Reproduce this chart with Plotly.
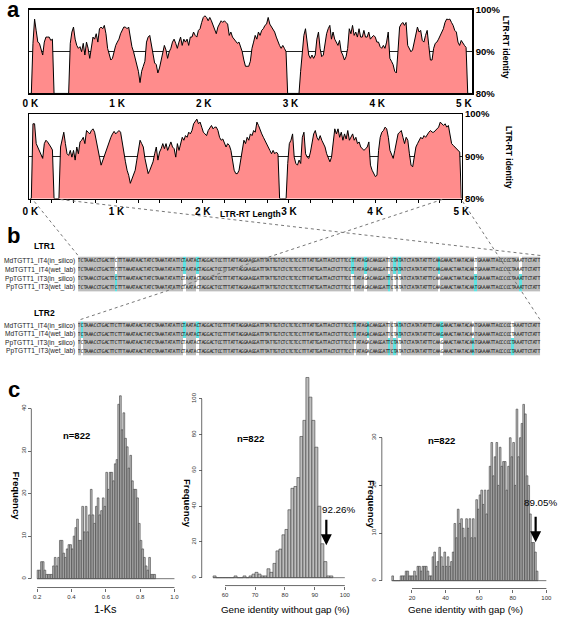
import plotly.graph_objects as go

W, H = 567, 622
FONT = "Liberation Sans, Arial, Helvetica, sans-serif"


def fx(px):
    return px / W


def fy(py):
    return 1 - py / H


# ---------------- data: panel a (LTR-RT identity profiles, %) ----------------
a1_start_kb = -0.0075
a1_step_kb = 0.01871
a1_identity = [
    80, 80, 92, 97.8, 95, 92.3, 92, 90.8, 89.2, 92.3,
    93.5, 93.5, 93.5, 92.7, 93, 80, 80, 80, 80, 80,
    80, 80, 80, 80, 80, 92, 94.7, 95.9, 93, 91.5,
    90.8, 91.2, 90, 92, 89.2, 92.3, 90.8, 88.4, 91.2, 93.5,
    93, 94.3, 92.3, 95.5, 95.9, 95.5, 96.3, 94.3, 90.8, 89.2,
    88, 88.4, 90, 91.5, 92.3, 93, 94.3, 95.1, 95.9, 95.9,
    95.5, 95.9, 93.5, 91.2, 90, 88.4, 86.9, 85.3, 82.6, 85.3,
    86.5, 87.7, 92.3, 93.5, 93.9, 91.5, 89.2, 87.3, 86.9, 84.9,
    86.1, 87.7, 89.6, 91.5, 90.4, 88.4, 90, 90.8, 92.3, 93,
    92, 90.8, 92.3, 93.5, 91.5, 93, 92.3, 93, 91.5, 93.5,
    93.5, 94.7, 93.9, 93.5, 95.1, 95.5, 97, 98.2, 98.6, 98.2,
    97.4, 98.2, 97.4, 96.3, 95.5, 94.3, 95.9, 96.6, 97.4, 97,
    97.4, 97, 96.6, 93.9, 94.7, 93.5, 93, 92.3, 92, 92.3,
    91.2, 90, 88, 86.5, 86.5, 86.5, 87.7, 90.8, 92.3, 93.9,
    93, 94.7, 93.9, 95.1, 95.5, 96.3, 96.6, 98.2, 96.6, 95.9,
    95.5, 94.7, 93.5, 92.3, 91.5, 90.8, 91.5, 90.8, 90, 80,
    80, 80, 80, 80, 80, 80, 80, 85.3, 90, 93.9,
    95.5, 92.3, 89.2, 88.4, 89.2, 88.4, 89.2, 93, 94.7, 90.8,
    88.8, 89.2, 91.5, 94.3, 95.5, 96.3, 93, 94.7, 93, 92.3,
    91.5, 92.7, 90, 89.2, 88, 88.8, 90.8, 95.5, 94.3, 96.3,
    93.9, 94.7, 93.5, 95.5, 93.5, 93.5, 95.1, 93.5, 93.5, 94.7,
    93, 93.5, 93.9, 93.5, 92.3, 92.3, 91.2, 90.8, 91.5, 90.8,
    92.3, 94.7, 88.4, 87.7, 86.9, 85.3, 84.9, 90, 95.9, 96.6,
    97, 96.3, 97, 91.5, 90.8, 90, 90.4, 92.3, 94.7, 95.9,
    94.7, 95.1, 92.7, 92.3, 93.9, 95.1, 91.5, 88, 88, 90.8,
    92, 92.3, 93, 93.9, 94.7, 95.5, 97, 97.8, 97.7, 97.8,
    97, 96.3, 95.1, 94.7, 92.3, 91.5, 92.7, 92, 91.5, 91,
    80, 80, 80,
]

a2_start_kb = -0.0075
a2_step_kb = 0.018825
a2_identity = [
    80, 80, 97.7, 97.7, 93, 92.2, 91.4, 90.6, 89.5, 93,
    93.8, 93.4, 92.6, 92.2, 91.5, 80, 80, 80, 80, 92.2,
    94.1, 95.7, 93, 90.6, 90.2, 91.4, 89.8, 91.4, 89.1, 92.2,
    90.6, 93.4, 93.8, 94.5, 93, 96.1, 95.7, 95.3, 96.1, 96.5,
    95.7, 93.4, 91.4, 89.8, 87.9, 89.1, 89.8, 91, 92.2, 93.8,
    94.5, 95.3, 95.9, 95.3, 95.7, 96.1, 95.7, 93, 91.4, 88.7,
    86.7, 85.5, 83.6, 84.8, 85.9, 86.7, 89.1, 91.4, 93.8, 93,
    92.2, 89.5, 87.5, 85.9, 86.7, 87.9, 88.7, 90.6, 92.2, 89.1,
    91, 91.8, 93, 91.8, 93, 91.4, 92.6, 93.4, 92.2, 91.8,
    89.8, 93, 91.4, 93, 94.5, 93.8, 94.9, 94.5, 95.7, 95.3,
    96.1, 97.7, 98.4, 98.8, 97.7, 98.1, 96.9, 95.7, 95.3, 94.9,
    96.1, 96.9, 97.3, 96.5, 96.9, 96.9, 96.1, 94.5, 93.8, 94.1,
    93, 92.2, 93, 92.6, 91.4, 89.1, 86.7, 85.9, 85.9, 86.7,
    89.1, 91.4, 93.8, 93, 94.5, 93.8, 95.3, 94.9, 96.1, 95.7,
    98.1, 97.3, 96.5, 95.3, 94.5, 93.8, 93, 92.2, 91.4, 90.6,
    91.4, 90.6, 91, 90.5, 80, 80, 80, 80, 80, 88.3,
    93, 93.8, 95.3, 89.8, 88.3, 87.9, 89.1, 88.3, 94.5, 95.7,
    90.6, 89.8, 89.5, 91, 93.8, 95.3, 96.1, 94.5, 93.8, 94.9,
    93.8, 93, 92.2, 90.6, 89.5, 88.7, 89.8, 93, 96.5, 95.3,
    96.5, 94.5, 95.7, 93.8, 95.3, 94.1, 96.1, 93.8, 94.5, 95.3,
    93.8, 94.5, 93, 93.4, 92.2, 91.8, 91.4, 91.8, 92.2, 93.4,
    87.9, 86.7, 85.9, 85.2, 85.5, 91.4, 94.5, 95.7, 96.1, 96.9,
    96.5, 94.5, 91.4, 90.6, 89.5, 91.4, 93.8, 95.3, 95.7, 96.1,
    94.5, 93, 94.5, 93.8, 90.6, 87.9, 87.5, 89.8, 92.2, 93,
    93.8, 94.5, 94.1, 94.9, 94.5, 95.3, 95.7, 96.1, 95.7, 95.7,
    96.1, 96.5, 96.9, 98.1, 97.7, 97.3, 97.7, 96.9, 97.3, 95.3,
    93, 92.6, 92.2, 91.8, 91.4, 91, 80,
]

kb_ticks = [0, 1, 2, 3, 4, 5]
kb_labels = ["0 K", "1 K", "2 K", "3 K", "4 K", "5 K"]
pct_ticks = [80, 90, 100]
pct_labels = ["80%", "90%", "100%"]

# ---------------- data: panel b (LTR alignments) ----------------
seq_names = ["MdTGTT1_IT4(in_silico)", "MdTGTT1_IT4(wet_lab)",
             "PpTGTT1_IT3(in_silico)", "PpTGTT1_IT3(wet_lab)"]
ltr_sequence = ("TCTAAACCTGACTTCTTTAAATAACTATCTAAATATATTCTAATACTAGGACTCCTTTATTAGGAAGGAT"
                "TTATTGTCTCTCTCCTTTATTGATTACTCTTTCCTTATAGACAAGGATTCTATATCTATATATTTCAAGA"
                "AACTAATACAATGAAAATTACCCCCTAAATTCTATT")
# variable columns: column index and the rows highlighted in cyan (other rows differ)
ltr1_var_cols = [14, 40, 45, 104, 109, 118, 120, 122, 137, 151, 168]
ltr1_var_rows = [[2, 3], [0, 1], [0, 1], [0, 1], [0, 1], [2, 3], [0, 1], [0, 1], [0, 1], [2, 3], [2, 3]]
ltr2_var_cols = [1, 40, 45, 105, 110, 118, 120, 122, 138, 150, 165]
ltr2_var_rows = [[0, 1], [0, 1], [0, 1], [0, 1], [0, 1], [2, 3], [2, 3], [0, 1], [0, 1], [2, 3], [2, 3]]

# ---------------- data: panel c (histograms) ----------------
ks_bin_start, ks_bin_width = 0.20, 0.01
ks_counts = [2, 2, 4, 4, 2, 1, 1, 1, 1, 3,
             5, 3, 5, 9, 9, 6, 5, 7, 8, 8,
             7, 10, 12, 14, 9, 9, 17, 11, 17, 11,
             15, 21, 15, 13, 17, 19, 15, 16, 19, 17,
             25, 21, 25, 25, 23, 27, 28, 41, 43, 35,
             39, 33, 31, 26, 29, 23, 21, 21, 19, 13,
             9, 7, 5, 3, 2, 5, 1, 1, 1]
ks_ticks = [0.2, 0.4, 0.6, 0.8, 1.0]
ks_tick_labels = ["0.2", "0.4", "0.6", "0.8", "1.0"]
ks_freq_ticks = [0, 10, 20, 30, 40]

nogap_bin_start, nogap_bin_width = 56, 1
nogap_counts = [1, 0, 0, 0, 0, 0, 0, 1, 0, 0,
                1, 0, 1, 2, 3, 2, 1, 1, 5, 3,
                8, 15, 16, 24, 27, 38, 50, 51, 56, 79,
                88, 112, 101, 88, 73, 40, 19, 9, 1, 1]
nogap_ticks = [60, 70, 80, 90, 100]
nogap_freq_ticks = [0, 20, 40, 60, 80, 100]
nogap_mark = 92.26

withgap_bin_start, withgap_bin_width = 8, 1
withgap_counts = [1, 0, 0, 0, 0, 1, 1, 1, 2, 2, 1, 1, 1, 2, 1, 3, 3, 2, 3, 3, 3, 2, 1, 1,
                  5, 6, 3, 4, 7, 5, 3, 6, 3, 5, 3, 4, 6,
                  12, 9, 15, 12, 13, 11, 9, 13, 11, 13, 9, 13, 9,
                  17, 15, 18, 19, 16, 19, 14, 19,
                  24, 29, 22, 26, 29, 20, 28, 24, 25, 25, 19, 24,
                  30, 26, 29, 20, 36, 26, 30, 33, 37, 35, 22, 20, 14, 8, 8, 6, 2]
withgap_ticks = [20, 40, 60, 80, 100]
withgap_freq_ticks = [0, 10, 20, 30]
withgap_mark = 89.05
n_genes = 822

# ---------------- figure ----------------
fig = go.Figure()
PINK = "#FF8C8C"

a1_pos = [a1_start_kb + i * a1_step_kb for i in range(len(a1_identity))]
a2_pos = [a2_start_kb + i * a2_step_kb for i in range(len(a2_identity))]
fig.add_trace(go.Scatter(x=a1_pos, y=a1_identity, mode="lines", fill="tozeroy",
                         fillcolor=PINK, line=dict(color="black", width=1),
                         xaxis="x", yaxis="y", hoverinfo="skip"))
fig.add_trace(go.Scatter(x=a2_pos, y=a2_identity, mode="lines", fill="tozeroy",
                         fillcolor=PINK, line=dict(color="black", width=1),
                         xaxis="x2", yaxis="y2", hoverinfo="skip"))


def build_z(cols, rows):
    z = [[0] * len(ltr_sequence) for _ in range(4)]
    for c, rs in zip(cols, rows):
        for r in range(4):
            z[r][c] = 1 if r in rs else 2
    return z


seq_text = [list(ltr_sequence) for _ in range(4)]
cscale = [[0, "#BDBDBD"], [0.33, "#BDBDBD"], [0.33, "#5FE3E3"], [0.67, "#5FE3E3"],
          [0.67, "#FFFFFF"], [1, "#FFFFFF"]]
for z, xa, ya in [(build_z(ltr1_var_cols, ltr1_var_rows), "x3", "y3"),
                  (build_z(ltr2_var_cols, ltr2_var_rows), "x4", "y4")]:
    fig.add_trace(go.Heatmap(z=z, text=seq_text, texttemplate="%{text}",
                             textfont=dict(size=5, color="#111111", family="DejaVu Sans Mono"),
                             colorscale=cscale, zmin=0, zmax=2, showscale=False,
                             xaxis=xa, yaxis=ya, hoverinfo="skip"))


def add_hist(start, width, counts, end, xa, ya):
    centers = [start + width * (i + 0.5) for i in range(len(counts))]
    fig.add_trace(go.Scatter(x=[start, end], y=[0, 0], mode="lines",
                             line=dict(color="#555555", width=0.8),
                             xaxis=xa, yaxis=ya, hoverinfo="skip"))
    fig.add_trace(go.Bar(x=centers, y=counts, width=width,
                         marker=dict(color="#BEBEBE", line=dict(color="#3c3c3c", width=0.6)),
                         xaxis=xa, yaxis=ya, hoverinfo="skip"))


add_hist(ks_bin_start, ks_bin_width, ks_counts, ks_ticks[-1], "x5", "y5")
add_hist(nogap_bin_start, nogap_bin_width, nogap_counts, nogap_ticks[-1], "x6", "y6")
add_hist(withgap_bin_start, withgap_bin_width, withgap_counts, withgap_ticks[-1], "x7", "y7")

bold = lambda s: "<b>" + s + "</b>"


def frame_axis(**kw):
    d = dict(showline=True, linecolor="black", linewidth=1.5, mirror=True,
             showgrid=False, zeroline=False, ticks="", fixedrange=True)
    d.update(kw)
    return d


layout_axes = dict(
    xaxis=frame_axis(domain=[fx(23), fx(478)], range=[(23 - 24) / 89.06, (478 - 24) / 89.06],
                     tickvals=kb_ticks, ticktext=[bold(t) for t in kb_labels],
                     tickfont=dict(size=10), anchor="y"),
    yaxis=frame_axis(domain=[fy(89), fy(4)], range=[80, 100], side="right",
                     tickvals=pct_ticks, ticktext=[bold(t) for t in pct_labels],
                     tickfont=dict(size=9.5), showgrid=True, gridcolor="#222222",
                     gridwidth=1, anchor="x"),
    xaxis2=frame_axis(domain=[fx(23), fx(467)], range=[(23 - 24) / 88.54, (467 - 24) / 88.54],
                      tickvals=kb_ticks, ticktext=[bold(t) for t in kb_labels],
                      tickfont=dict(size=10), anchor="y2", ticks="outside", ticklen=3,
                      tickcolor="black",
                      minor=dict(tickmode="linear", tick0=0, dtick=0.25, ticks="outside",
                                 ticklen=3, tickcolor="black")),
    yaxis2=frame_axis(domain=[fy(196), fy(110)], range=[80, 100], side="right",
                      tickvals=pct_ticks, ticktext=[bold(t) for t in pct_labels],
                      tickfont=dict(size=9.5), showgrid=True, gridcolor="#222222",
                      gridwidth=1, anchor="x2"),
)

n_cols = len(ltr_sequence)
for xa, ya, top, bot in [("xaxis3", "yaxis3", 255, 291), ("xaxis4", "yaxis4", 321, 356)]:
    layout_axes[xa] = dict(domain=[fx(73), fx(548)], range=[-0.5, n_cols - 0.5], visible=False,
                           anchor=ya.replace("axis", ""), fixedrange=True)
    layout_axes[ya] = dict(domain=[fy(bot), fy(top)], range=[3.5, -0.5], visible=False,
                           anchor=xa.replace("axis", ""), fixedrange=True)

TICKC = "#444444"


def hist_axes(xname, yname, x0px, x0v, xscale, xlo_px, xhi_px, yaxis_px, y0px, yscale,
              ytop, xaxis_py, xticks, xticktext, yticks):
    xr = [x0v + (xlo_px - x0px) / xscale, x0v + (xhi_px - x0px) / xscale]
    ylo = -0.6
    dom_y = [fy(y0px - ylo * yscale), fy(y0px - ytop * yscale)]
    layout_axes[xname] = dict(domain=[fx(xlo_px), fx(xhi_px)], range=xr, anchor="free",
                              position=fy(xaxis_py), tickvals=xticks, ticktext=xticktext,
                              ticks="outside", ticklen=3, tickwidth=0.8, tickcolor=TICKC,
                              tickfont=dict(size=6, color="#333333"), showline=False,
                              showgrid=False, zeroline=False, fixedrange=True)
    layout_axes[yname] = dict(domain=dom_y, range=[ylo, ytop], anchor="free",
                              position=fx(yaxis_px), tickvals=yticks, ticks="outside",
                              ticklen=3, tickwidth=0.8, tickcolor=TICKC, tickangle=-90,
                              tickfont=dict(size=6, color="#333333"), showline=False,
                              showgrid=False, zeroline=False, fixedrange=True)


hist_axes("xaxis5", "yaxis5", 31, 0.2, 176.25, 29, 174, 25, 583, 4.33, 43.5, 592,
          ks_ticks, ks_tick_labels, ks_freq_ticks)
hist_axes("xaxis6", "yaxis6", 224, 60, 3.075, 206, 349, 200, 582, 1.82, 113.5, 590,
          nogap_ticks, [str(t) for t in nogap_ticks], nogap_freq_ticks)
hist_axes("xaxis7", "yaxis7", 416, 20, 1.725, 392, 556, 385, 585, 4.85, 37.6, 593,
          withgap_ticks, [str(t) for t in withgap_ticks], withgap_freq_ticks)

shapes = []


def pline(x0, y0, x1, y1, color="#444444", width=0.8, dash=None):
    ln = dict(color=color, width=width)
    if dash:
        ln["dash"] = dash
    shapes.append(dict(type="line", xref="paper", yref="paper", x0=fx(x0), y0=fy(y0),
                       x1=fx(x1), y1=fy(y1), line=ln, layer="above"))


# detached (R-style) histogram axis lines
pline(25, 583, 25, 583 - 40 * 4.33)
pline(31, 592, 31 + 0.8 * 176.25, 592)
pline(200, 582, 200, 582 - 100 * 1.82)
pline(224, 590, 224 + 40 * 3.075, 590)
pline(385, 585, 385, 585 - 30 * 4.85)
pline(416, 593, 416 + 80 * 1.725, 593)

# dotted connectors from LTR-RT profile to alignments
for (x0, y0, x1, y1) in [(28, 199, 73, 254), (55, 197, 548, 254),
                         (447, 197, 73, 320), (468, 199, 548, 320)]:
    pline(x0, y0, x1, y1, color="#777777", width=1, dash="dot")

anns = []


def ann(text, px, py, size, b=False, angle=0, xanchor="center", color="black"):
    anns.append(dict(text=bold(text) if b else text, x=fx(px), y=fy(py), xref="paper",
                     yref="paper", showarrow=False, xanchor=xanchor, yanchor="middle",
                     textangle=angle, font=dict(size=size, color=color, family=FONT)))


ann("a", 7, 4, 22, b=True)
ann("b", 7, 234, 22, b=True)
ann("c", 7, 390, 22, b=True)
ann("LTR-RT identity", 512, 42, 8.5, b=True, angle=90)
ann("LTR-RT identity", 515, 154, 8.5, b=True, angle=90)
ann("LTR-RT Length", 250, 212, 8.5, b=True)
ann("LTR1", 39, 244, 8.5, b=True)
ann("LTR2", 39, 313, 8.5, b=True)
for i, name in enumerate(seq_names):
    ann(name, 72, 255 + 9 * (i + 0.5), 6.6, xanchor="right", color="#222222")
    ann(name, 72, 321 + 8.75 * (i + 0.5), 6.6, xanchor="right", color="#222222")

ann("n=" + str(n_genes), 71, 437, 9.5, b=True)
ann("n=" + str(n_genes), 250, 440, 9.5, b=True)
ann("n=" + str(n_genes), 446, 442, 9.5, b=True)
ann("Frequency", 10, 499, 9.5, b=True, angle=90)
ann("Frequency", 186, 506, 9.5, b=True, angle=90)
ann("Frequency", 375, 507, 9.5, b=True, angle=90)
ann("1-Ks", 101, 614, 11)
ann("Gene identity without gap (%)", 286, 614, 9.8)
ann("Gene identity with gap (%)", 471, 614, 9.8)
ann("%.2f%%" % nogap_mark, 341, 513, 9.8)
ann("%.2f%%" % withgap_mark, 549, 505, 9.8)

for px, tip in [(328, 549), (543, 546)]:
    anns.append(dict(x=fx(px), y=fy(tip), xref="paper", yref="paper", ax=0, ay=-27,
                     showarrow=True, arrowhead=2, arrowsize=1, arrowwidth=2.2,
                     arrowcolor="black", text=""))

fig.update_layout(
    width=W, height=H, margin=dict(l=0, r=0, t=0, b=0),
    paper_bgcolor="white", plot_bgcolor="white", showlegend=False,
    font=dict(family=FONT, color="black"), bargap=0,
    shapes=shapes, annotations=anns, **layout_axes,
)

fig.write_html("out.html", config={"displayModeBar": False, "staticPlot": True},
               post_script="document.body.style.margin='0px';document.body.style.overflow='hidden';")
